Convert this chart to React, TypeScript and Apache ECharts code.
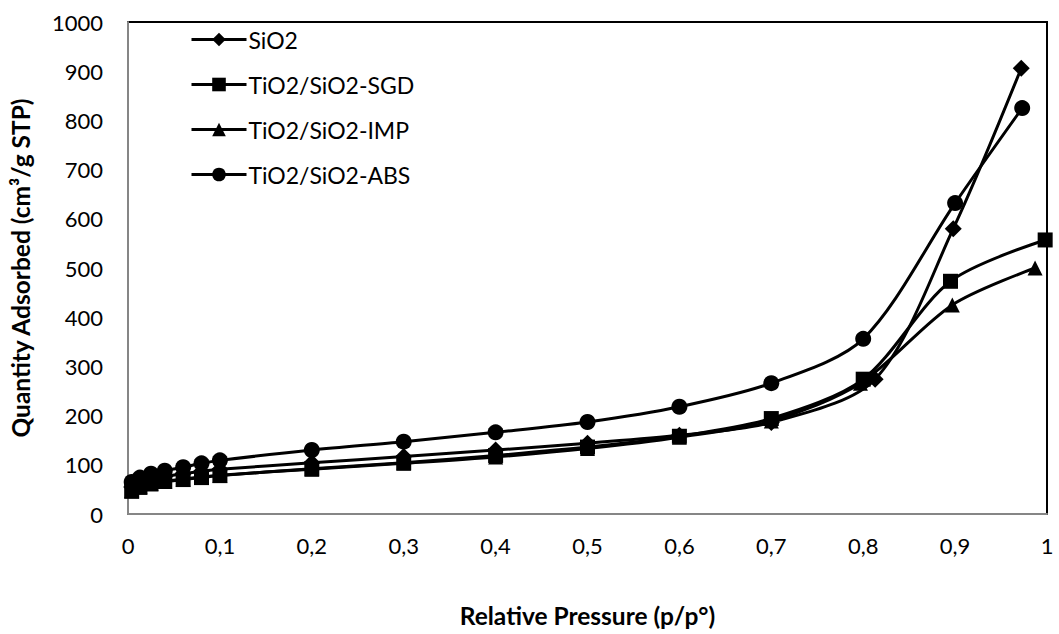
import React, { useEffect, useRef } from "react";
import * as echarts from "echarts";

const seriesNames = ["SiO2", "TiO2/SiO2-SGD", "TiO2/SiO2-IMP", "TiO2/SiO2-ABS"];

const sio2X = [0.004, 0.013, 0.025, 0.04, 0.06, 0.08, 0.1, 0.2, 0.3, 0.4, 0.5, 0.6, 0.7, 0.813, 0.898, 0.972];
const sio2Y = [55, 63, 70, 76, 82, 87, 91, 104, 117, 130, 144, 160, 186, 274, 580, 906];

const sgdX = [0.004, 0.013, 0.025, 0.04, 0.06, 0.08, 0.1, 0.2, 0.3, 0.4, 0.5, 0.6, 0.7, 0.8, 0.895, 0.998];
const sgdY = [46, 54, 61, 66, 70, 74, 78, 92, 104, 119, 136, 158, 194, 274, 473, 557];

const impX = [0.004, 0.013, 0.025, 0.04, 0.06, 0.08, 0.1, 0.2, 0.3, 0.4, 0.5, 0.6, 0.7, 0.797, 0.897, 0.987];
const impY = [48, 56, 62, 67, 71, 75, 79, 91, 103, 116, 133, 156, 189, 266, 425, 500];

const absX = [0.004, 0.013, 0.025, 0.04, 0.06, 0.08, 0.1, 0.2, 0.3, 0.4, 0.5, 0.6, 0.7, 0.8, 0.9, 0.973];
const absY = [65, 74, 82, 88, 95, 103, 109, 130, 147, 166, 187, 218, 266, 356, 632, 825];

const xTicks = ["0", "0,1", "0,2", "0,3", "0,4", "0,5", "0,6", "0,7", "0,8", "0,9", "1"];

const FONT = "Lato";

function pairs(xs: number[], ys: number[]) {
  return xs.map((x, i) => [x, ys[i]]);
}

export default function App() {
  const ref = useRef<HTMLDivElement>(null);
  useEffect(() => {
    if (!ref.current) return;
    const chart = echarts.init(ref.current, undefined, { renderer: "svg" });
    const diamond = "path://M5,0 L10,5 L5,10 L0,5 Z";
    const symbols = [diamond, "rect", "triangle", "circle"];
    const sizes = [17, 15, 15, 16];
    const datasets = [pairs(sio2X, sio2Y), pairs(sgdX, sgdY), pairs(impX, impY), pairs(absX, absY)];
    chart.setOption({
      animation: false,
      backgroundColor: "#ffffff",
      textStyle: { fontFamily: FONT },
      grid: {
        left: 125,
        right: 12,
        top: 22,
        bottom: 120,
        show: true,
        borderColor: "#000000",
        borderWidth: 2,
      },
      legend: {
        orient: "vertical",
        left: 190,
        top: 28,
        padding: 0,
        itemWidth: 55,
        itemHeight: 17,
        itemGap: 22,
        data: seriesNames,
        lineStyle: { width: 3, color: "#000" },
        textStyle: {
          fontSize: 23,
          lineHeight: 23,
          color: "#000",
          fontFamily: FONT,
          padding: [0, 0, 0, -3],
        },
      },
      xAxis: {
        type: "value",
        min: 0,
        max: 1,
        interval: 0.1,
        name: "Relative Pressure (p/p°)",
        nameLocation: "middle",
        nameGap: 89,
        nameTextStyle: { fontSize: 24.5, fontWeight: "bold", color: "#000", fontFamily: FONT },
        axisLine: { show: true, lineStyle: { color: "#868686", width: 2 } },
        axisTick: { show: false },
        splitLine: { show: false },
        axisLabel: {
          fontSize: 22,
          color: "#000",
          margin: 20,
          fontFamily: FONT,
          formatter: (v: number) => xTicks[Math.round(v * 10)] ?? "",
        },
      },
      yAxis: {
        type: "value",
        min: 0,
        max: 1000,
        interval: 100,
        name: "Quantity Adsorbed (cm³/g STP)",
        nameLocation: "middle",
        nameGap: 95,
        nameRotate: 90,
        nameTextStyle: { fontSize: 24.5, fontWeight: "bold", color: "#000", fontFamily: FONT },
        axisLine: { show: true, lineStyle: { color: "#868686", width: 2 } },
        axisTick: { show: false },
        splitLine: { show: false },
        axisLabel: {
          fontSize: 22,
          color: "#000",
          margin: 25,
          fontFamily: FONT,
          formatter: (v: number) => String(v),
        },
      },
      series: seriesNames.map((name, i) => ({
        name,
        type: "line",
        data: datasets[i],
        smooth: 0.3,
        symbol: symbols[i],
        symbolSize: sizes[i],
        showAllSymbol: true,
        itemStyle: { color: "#000000" },
        lineStyle: { color: "#000000", width: 3 },
      })),
    });
    return () => chart.dispose();
  }, []);
  return <div ref={ref} style={{ width: 1059, height: 634, position: "absolute", left: 0, top: 0 }} />;
}
